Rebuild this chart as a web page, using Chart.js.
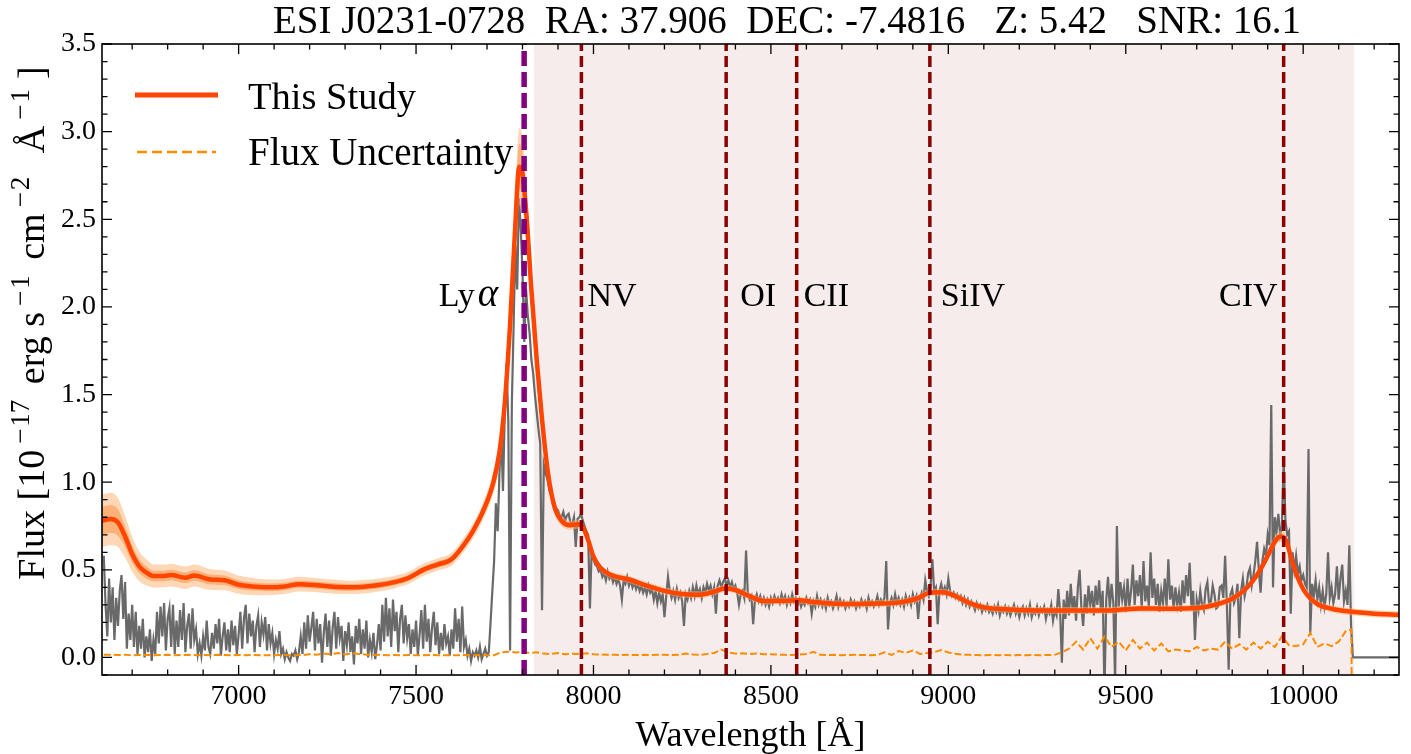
<!DOCTYPE html>
<html>
<head>
<meta charset="utf-8">
<title>ESI J0231-0728 spectrum</title>
<script src="https://cdn.jsdelivr.net/npm/chart.js@4.4.1/dist/chart.umd.min.js"></script>
<style>
  html, body { margin: 0; padding: 0; background: #fff; }
  canvas { display: block; }
</style>
</head>
<body>
<canvas id="spec" width="1411" height="754"></canvas>
<script>
// observed spectrum, 5 A sampling starting at 6620 A
var fluxStart = 6620, fluxStep = 5;
var fluxObs = [
  0.58, 0.30, 0.12, 0.45, 0.20, 0.40, 0.10, 0.34, 0.18, 0.38,
  0.47, 0.22, 0.43, 0.05, 0.25, 0.10, 0.30, 0.06, 0.26, 0.02,
  0.18, 0.05, 0.22, 0.00, 0.12, 0.03, 0.16, -0.02, 0.10, 0.02,
  0.26, 0.08, 0.29, 0.12, 0.31, 0.04, 0.22, 0.28, 0.06, 0.30,
  0.02, 0.21, 0.06, 0.27, 0.10, 0.31, 0.03, 0.18, 0.25, 0.05,
  0.28, 0.10, 0.16, 0.02, 0.08, 0.01, 0.12, 0.04, 0.21, 0.06,
  0.02, 0.14, 0.05, 0.19, 0.08, 0.22, 0.01, 0.12, 0.20, 0.04,
  0.16, 0.03, 0.21, 0.07, 0.18, 0.02, 0.13, 0.26, 0.05, 0.22,
  0.30, 0.08, 0.25, 0.12, 0.21, 0.03, 0.18, 0.24, 0.06, 0.20,
  0.13, 0.23, 0.04, 0.19, 0.08, 0.14, 0.02, 0.10, 0.05, 0.15,
  0.02, 0.05, -0.01, 0.03, 0.00, -0.02, 0.02, 0.01, 0.04, -0.01,
  0.03, 0.12, 0.02, 0.20, 0.05, 0.24, 0.09, 0.17, 0.26, 0.04,
  0.22, 0.08, 0.19, -0.03, 0.14, 0.25, 0.06, 0.21, 0.01, 0.17,
  0.26, 0.05, 0.23, 0.11, 0.18, -0.02, 0.15, 0.07, 0.20, 0.03,
  0.12, -0.04, 0.18, 0.08, 0.22, 0.02, 0.16, 0.05, 0.21, 0.00,
  0.10, 0.03, 0.14, -0.01, 0.07, 0.19, 0.04, 0.30, 0.09, 0.34,
  0.12, 0.28, 0.06, 0.33, 0.15, 0.26, 0.03, 0.22, 0.30, 0.08,
  0.24, 0.11, 0.19, 0.02, 0.16, 0.06, 0.21, 0.01, 0.13, 0.27,
  0.05, 0.30, 0.09, 0.22, 0.03, 0.17, 0.26, 0.07, 0.20, 0.02,
  0.14, 0.04, 0.19, 0.08, 0.12, 0.01, 0.16, 0.05, 0.28, 0.09,
  0.22, 0.03, 0.29, 0.06, 0.10, 0.01, 0.05, -0.02, 0.03, 0.01,
  0.04, 0.00, 0.06, -0.01, 0.02, 0.05, 0.01, 0.03, 0.20, 0.38,
  0.55, 0.88, 0.72, 1.05, 1.28, 0.95, 1.40, 1.68, 1.35, 0.04,
  1.45, 1.90, 2.35, 2.10, 2.62, 2.45, 2.20, 1.80, 2.10, 1.95,
  1.85, 1.70, 1.62, 1.50, 1.40, 1.30, 1.22, 0.27, 1.10, 1.05,
  1.02, 0.96, 0.93, 0.90, 0.88, 0.85, 0.84, 0.81, 0.80, 0.83,
  0.78, 0.81, 0.82, 0.77, 0.76, 0.80, 0.63, 0.79, 0.80, 0.82,
  0.78, 0.75, 0.72, 0.70, 0.28, 0.62, 0.56, 0.53, 0.52, 0.49,
  0.50, 0.46, 0.48, 0.44, 0.49, 0.45, 0.47, 0.43, 0.46, 0.42,
  0.45, 0.41, 0.33, 0.44, 0.42, 0.46, 0.41, 0.44, 0.40, 0.43,
  0.39, 0.42, 0.38, 0.41, 0.37, 0.40, 0.36, 0.41, 0.37, 0.39,
  0.33, 0.38, 0.31, 0.37, 0.32, 0.36, 0.23, 0.35, 0.46, 0.38,
  0.34, 0.38, 0.33, 0.39, 0.34, 0.37, 0.32, 0.18, 0.36, 0.33,
  0.38, 0.34, 0.40, 0.35, 0.41, 0.36, 0.39, 0.34, 0.40, 0.37,
  0.42, 0.38, 0.41, 0.36, 0.40, 0.25, 0.41, 0.44, 0.40, 0.43,
  0.45, 0.41, 0.44, 0.40, 0.43, 0.39, 0.41, 0.37, 0.30, 0.36,
  0.38, 0.34, 0.61, 0.36, 0.33, 0.35, 0.19, 0.33, 0.36, 0.32,
  0.35, 0.31, 0.34, 0.30, 0.33, 0.29, 0.34, 0.31, 0.35, 0.32,
  0.34, 0.31, 0.36, 0.32, 0.35, 0.30, 0.34, 0.31, 0.36, 0.32,
  0.34, 0.30, 0.33, 0.29, 0.32, 0.30, 0.34, 0.31, 0.33, 0.25,
  0.32, 0.29, 0.35, 0.30, 0.33, 0.29, 0.32, 0.28, 0.34, 0.30,
  0.32, 0.28, 0.31, 0.35, 0.29, 0.33, 0.30, 0.32, 0.28, 0.31,
  0.29, 0.33, 0.30, 0.32, 0.28, 0.31, 0.29, 0.33, 0.30, 0.32,
  0.28, 0.34, 0.30, 0.32, 0.29, 0.31, 0.35, 0.30, 0.33, 0.31,
  0.34, 0.55, 0.16, 0.31, 0.34, 0.30, 0.36, 0.31, 0.34, 0.30,
  0.33, 0.29, 0.35, 0.31, 0.34, 0.30, 0.36, 0.32, 0.35, 0.22,
  0.34, 0.37, 0.33, 0.44, 0.38, 0.35, 0.41, 0.56, 0.38, 0.40,
  0.19, 0.38, 0.42, 0.37, 0.40, 0.36, 0.45, 0.38, 0.35, 0.37,
  0.34, 0.36, 0.33, 0.35, 0.31, 0.34, 0.30, 0.33, 0.29, 0.32,
  0.30, 0.27, 0.31, 0.28, 0.30, 0.26, 0.29, 0.27, 0.30, 0.26,
  0.28, 0.25, 0.29, 0.26, 0.30, 0.24, 0.28, 0.26, 0.29, 0.25,
  0.28, 0.24, 0.27, 0.30, 0.25, 0.28, 0.23, 0.27, 0.29, 0.24,
  0.28, 0.25, 0.30, 0.23, 0.27, 0.25, 0.29, 0.24, 0.28, 0.26,
  0.29, 0.22, 0.27, 0.25, 0.30, 0.21, 0.27, 0.24, 0.39, 0.26,
  -0.03, 0.33, 0.22, 0.38, 0.24, 0.42, 0.27, 0.35, 0.21, 0.40,
  0.50, 0.28, 0.18, 0.36, 0.25, 0.41, 0.30, 0.38, 0.24, 0.41,
  0.30, 0.44, 0.26, 0.38, -0.20, 0.33, 0.46, 0.28, 0.42, 0.31,
  -0.15, 0.75, 0.29, 0.43, 0.33, 0.40, 0.26, 0.45, 0.29, 0.38,
  0.53, 0.30, 0.44, 0.35, 0.47, 0.28, 0.55, 0.32, 0.41, 0.29,
  0.60, 0.34, 0.45, 0.30, 0.42, 0.26, 0.38, 0.31, 0.45, 0.29,
  0.56, 0.33, 0.41, 0.27, 0.40, 0.30, 0.37, 0.26, 0.44, 0.31,
  0.47, 0.35, 0.54, 0.29, 0.38, 0.10, 0.33, 0.27, 0.38, 0.30,
  0.27, 0.39, 0.43, 0.30, 0.32, 0.41, 0.36, 0.28, 0.29, 0.40,
  0.41, 0.34, 0.58, 0.30, -0.07, 0.36, 0.39, 0.31, 0.34, 0.42,
  0.11, 0.38, 0.45, 0.35, 0.40, 0.48, 0.51, 0.41, 0.47, 0.55,
  0.66, 0.50, 0.37, 0.55, 0.62, 0.58, 0.70, 0.64, 1.44, 0.40,
  0.80, 0.72, 0.82, 0.70, 0.75, 1.13, 0.78, 0.70, 0.72, 0.25,
  0.60, 0.50, 0.58, 0.48, 0.52, 0.44, 0.47, 0.42, 0.40, 1.19,
  0.14, 0.42, 0.35, 0.44, 0.33, 0.40, 0.30, 0.38, 0.29, 0.36,
  0.60, 0.34, 0.40, 0.31, 0.36, 0.52, 0.33, 0.45, 0.53, 0.32,
  0.38, 0.30, 0.64, 0.18
];
// zero-filled tail past the end of the order
var fluxTailWave = [10140, 10270];
var fluxTailVal = [0.0, 0.0];

// 1-sigma flux error, 20 A sampling starting at 6620 A
var errStart = 6620, errStep = 20;
var fluxErr = [
  0.015, 0.016, 0.014, 0.015, 0.013, 0.014, 0.015, 0.013, 0.014, 0.015,
  0.013, 0.014, 0.015, 0.013, 0.014, 0.013, 0.015, 0.014, 0.013, 0.014,
  0.013, 0.014, 0.013, 0.012, 0.013, 0.014, 0.013, 0.012, 0.014, 0.018,
  0.016, 0.022, 0.018, 0.026, 0.017, 0.024, 0.020, 0.016, 0.014, 0.015,
  0.013, 0.014, 0.013, 0.014, 0.012, 0.013, 0.014, 0.013, 0.012, 0.013,
  0.013, 0.014, 0.012, 0.013, 0.012, 0.013, 0.030, 0.033, 0.029, 0.031,
  0.026, 0.030, 0.022, 0.020, 0.025, 0.019, 0.021, 0.020, 0.024, 0.018,
  0.017, 0.016, 0.015, 0.014, 0.015, 0.014, 0.015, 0.014, 0.016, 0.015,
  0.014, 0.015, 0.022, 0.017, 0.015, 0.020, 0.026, 0.045, 0.028, 0.022,
  0.024, 0.020, 0.023, 0.018, 0.019, 0.016, 0.015, 0.014, 0.016, 0.020,
  0.032, 0.015, 0.014, 0.015, 0.013, 0.014, 0.015, 0.014, 0.013, 0.014,
  0.030, 0.014, 0.037, 0.026, 0.040, 0.020, 0.025, 0.030, 0.042, 0.028,
  0.021, 0.016, 0.015, 0.014, 0.013, 0.014, 0.013, 0.014, 0.013, 0.014,
  0.013, 0.014, 0.013, 0.014, 0.015, 0.030, 0.050, 0.090, 0.045, 0.110,
  0.050, 0.120, 0.060, 0.090, 0.040, 0.100, 0.050, 0.085, 0.040, 0.080,
  0.035, 0.045, 0.040, 0.035, 0.060, 0.040, 0.050, 0.045, 0.090, 0.050,
  0.075, 0.045, 0.085, 0.050, 0.090, 0.060, 0.120, 0.070, 0.065, 0.075,
  0.140, 0.060, 0.080, 0.065, 0.090, 0.150
];
var errTailWave = [10136, 10138];
var errTailVal = [0.16, -1.0];

// model fit with its 1- and 2-sigma half widths
var modelWave = [
  6615, 6640, 6660, 6680, 6700, 6720, 6740, 6760, 6790, 6810,
  6850, 6875, 6920, 6960, 7000, 7050, 7090, 7130, 7170, 7230,
  7280, 7320, 7360, 7400, 7440, 7480, 7520, 7560, 7600, 7630,
  7660, 7690, 7718, 7735, 7750, 7765, 7778, 7791, 7800, 7812,
  7825, 7840, 7855, 7872, 7890, 7910, 7935, 7955, 7970, 7985,
  8000, 8020, 8050, 8100, 8150, 8200, 8250, 8300, 8340, 8372,
  8400, 8440, 8480, 8540, 8580, 8620, 8700, 8800, 8860, 8910,
  8950, 8985, 9020, 9060, 9100, 9150, 9200, 9300, 9400, 9470,
  9540, 9620, 9700, 9760, 9800, 9840, 9870, 9900, 9920, 9935,
  9950, 9970, 9990, 10010, 10040, 10080, 10130, 10200, 10270
];
var modelFlux = [
  0.78, 0.79, 0.77, 0.69, 0.59, 0.52, 0.485, 0.465, 0.465, 0.47,
  0.455, 0.468, 0.445, 0.44, 0.415, 0.403, 0.40, 0.405, 0.418, 0.41,
  0.402, 0.40, 0.405, 0.415, 0.43, 0.455, 0.50, 0.53, 0.56, 0.63,
  0.72, 0.84, 1.00, 1.17, 1.45, 1.90, 2.40, 2.80, 2.76, 2.50,
  2.10, 1.70, 1.36, 1.05, 0.86, 0.78, 0.755, 0.76, 0.745, 0.67,
  0.575, 0.51, 0.47, 0.445, 0.41, 0.38, 0.362, 0.358, 0.375, 0.395,
  0.385, 0.35, 0.322, 0.322, 0.327, 0.316, 0.305, 0.308, 0.313, 0.335,
  0.37, 0.372, 0.35, 0.31, 0.286, 0.276, 0.271, 0.268, 0.268, 0.27,
  0.28, 0.278, 0.282, 0.305, 0.335, 0.395, 0.47, 0.58, 0.66, 0.69,
  0.675, 0.54, 0.43, 0.36, 0.305, 0.278, 0.262, 0.25, 0.244
];
var bandInner = [
  0.08, 0.08, 0.075, 0.06, 0.05, 0.04, 0.035, 0.03, 0.03, 0.03,
  0.03, 0.03, 0.028, 0.027, 0.025, 0.023, 0.022, 0.021, 0.02, 0.02,
  0.02, 0.019, 0.019, 0.019, 0.018, 0.018, 0.018, 0.018, 0.019, 0.02,
  0.022, 0.026, 0.035, 0.045, 0.06, 0.08, 0.10, 0.13, 0.12, 0.10,
  0.08, 0.06, 0.045, 0.03, 0.02, 0.015, 0.013, 0.013, 0.013, 0.012,
  0.01, 0.01, 0.01, 0.01, 0.01, 0.01, 0.01, 0.01, 0.01, 0.01,
  0.01, 0.01, 0.01, 0.01, 0.01, 0.01, 0.01, 0.01, 0.01, 0.01,
  0.01, 0.01, 0.01, 0.01, 0.01, 0.01, 0.01, 0.01, 0.01, 0.01,
  0.01, 0.01, 0.01, 0.01, 0.01, 0.01, 0.01, 0.015, 0.015, 0.015,
  0.015, 0.015, 0.01, 0.01, 0.01, 0.01, 0.01, 0.01, 0.01
];
var bandOuter = [
  0.15, 0.15, 0.14, 0.12, 0.10, 0.085, 0.075, 0.066, 0.065, 0.065,
  0.064, 0.063, 0.06, 0.056, 0.052, 0.048, 0.045, 0.043, 0.042, 0.04,
  0.04, 0.038, 0.038, 0.037, 0.036, 0.035, 0.035, 0.035, 0.037, 0.04,
  0.044, 0.05, 0.065, 0.085, 0.11, 0.14, 0.18, 0.22, 0.21, 0.18,
  0.14, 0.11, 0.085, 0.06, 0.04, 0.03, 0.026, 0.026, 0.026, 0.024,
  0.02, 0.02, 0.02, 0.02, 0.02, 0.02, 0.02, 0.02, 0.02, 0.02,
  0.02, 0.02, 0.02, 0.02, 0.02, 0.02, 0.02, 0.02, 0.02, 0.02,
  0.02, 0.02, 0.02, 0.02, 0.02, 0.02, 0.02, 0.02, 0.02, 0.02,
  0.02, 0.02, 0.02, 0.02, 0.02, 0.02, 0.02, 0.03, 0.03, 0.03,
  0.03, 0.03, 0.02, 0.02, 0.02, 0.02, 0.02, 0.02, 0.02
];

// emission lines (rest frame, A) and redshift
var redshift = 5.42;
var lineNames = ['Ly\u03b1', 'NV', 'OI', 'CII', 'SiIV', 'CIV'];
var lineRest = [1215.67, 1240.81, 1304.35, 1335.30, 1393.76, 1549.06];
var fitWindowRest = [1220, 1580];

var xMajorTicks = [7000, 7500, 8000, 8500, 9000, 9500, 10000];
var yMajorTicks = [0, 0.5, 1.0, 1.5, 2.0, 2.5, 3.0, 3.5];

var titleText = 'ESI J0231-0728  RA: 37.906  DEC: -7.4816   Z: 5.42   SNR: 16.1';

var serif = "'Liberation Serif', 'Times New Roman', serif";

function onGrid(start, step, vals) {
  return vals.map(function (v, i) { return { x: start + i * step, y: v }; });
}
function paired(xs, ys) {
  return xs.map(function (v, i) { return { x: v, y: ys[i] }; });
}
function offsetModel(halfWidth, sign) {
  return modelWave.map(function (w, i) { return { x: w, y: modelFlux[i] + sign * halfWidth[i] }; });
}

// label placement next to each line marker
var labelPlace = {
  'Ly\u03b1': { side: 'left', gap: 26 },
  'NV': { side: 'right', gap: 6 },
  'OI': { side: 'right', gap: 14 },
  'CII': { side: 'right', gap: 7 },
  'SiIV': { side: 'right', gap: 11 },
  'CIV': { side: 'left', gap: 6 }
};

var decor = {
  id: 'decor',
  beforeDatasetsDraw: function (chart) {
    var ctx = chart.ctx, a = chart.chartArea, x = chart.scales.x;
    var x0 = x.getPixelForValue(fitWindowRest[0] * (1 + redshift));
    var x1 = x.getPixelForValue(fitWindowRest[1] * (1 + redshift));
    ctx.save();
    ctx.fillStyle = 'rgb(246, 236, 236)';
    ctx.fillRect(x0, a.top, x1 - x0, a.bottom - a.top);
    ctx.restore();
  },
  afterDatasetsDraw: function (chart) {
    var ctx = chart.ctx, a = chart.chartArea, x = chart.scales.x, y = chart.scales.y;
    ctx.save();
    ctx.beginPath();
    ctx.rect(a.left, a.top, a.right - a.left, a.bottom - a.top);
    ctx.clip();

    // line markers
    lineNames.forEach(function (name, i) {
      var px = x.getPixelForValue(lineRest[i] * (1 + redshift));
      var lya = i === 0;
      ctx.beginPath();
      ctx.setLineDash(lya ? [15, 6] : [11, 5]);
      ctx.lineWidth = lya ? 5.5 : 3.5;
      ctx.strokeStyle = lya ? '#800080' : '#8b0000';
      ctx.moveTo(px, a.bottom);
      ctx.lineTo(px, a.top);
      ctx.stroke();
    });
    ctx.setLineDash([]);

    // line names
    ctx.fillStyle = '#000';
    ctx.textBaseline = 'alphabetic';
    ctx.textAlign = 'left';
    var labelY = 306;
    lineNames.forEach(function (name, i) {
      var px = x.getPixelForValue(lineRest[i] * (1 + redshift));
      var place = labelPlace[name];
      if (i === 0) {
        // "Ly" upright, alpha italic as in math mode
        ctx.font = '34px ' + serif;
        var wLy = ctx.measureText('Ly').width;
        ctx.font = 'italic 39px ' + serif;
        var wA = ctx.measureText('\u03b1').width;
        var sx = px - place.gap - wLy - 3 - wA;
        ctx.font = '34px ' + serif;
        ctx.fillText('Ly', sx, labelY);
        ctx.font = 'italic 39px ' + serif;
        ctx.fillText('\u03b1', sx + wLy + 3, labelY);
      } else {
        ctx.font = '34px ' + serif;
        var w = ctx.measureText(name).width;
        var tx = place.side === 'right' ? px + place.gap : px - place.gap - w;
        ctx.fillText(name, tx, labelY);
      }
    });
    ctx.restore();

    // inward ticks on all four sides
    ctx.save();
    ctx.strokeStyle = '#000';
    ctx.lineWidth = 1.3;
    ctx.beginPath();
    for (var v = 6700; v <= 10200; v += 100) {
      var px = x.getPixelForValue(v);
      var len = xMajorTicks.indexOf(v) >= 0 ? 10 : 5.5;
      ctx.moveTo(px, a.bottom); ctx.lineTo(px, a.bottom - len);
      ctx.moveTo(px, a.top); ctx.lineTo(px, a.top + len);
    }
    for (var k = -1; k <= 35; k++) {
      var py = y.getPixelForValue(k / 10);
      var ylen = k % 5 === 0 ? 10 : 5.5;
      ctx.moveTo(a.left, py); ctx.lineTo(a.left + ylen, py);
      ctx.moveTo(a.right, py); ctx.lineTo(a.right - ylen, py);
    }
    ctx.stroke();
    ctx.lineWidth = 1.6;
    ctx.strokeRect(a.left, a.top, a.right - a.left, a.bottom - a.top);
    ctx.restore();
  },
  afterDraw: function (chart) {
    var ctx = chart.ctx, a = chart.chartArea;
    ctx.save();
    ctx.fillStyle = '#000';
    ctx.textBaseline = 'alphabetic';

    // title
    ctx.font = '39px ' + serif;
    ctx.textAlign = 'center';
    ctx.fillText(titleText, 787, 33);

    // x axis title
    ctx.font = '36px ' + serif;
    ctx.fillText('Wavelength [\u00c5]', (a.left + a.right) / 2, 746);

    // y axis title: [text, superscript?, extra space before]
    var parts = [['Flux [10', 0, 0], ['\u2212', 1, 6], ['17', 1, 2], [' erg s', 0, 6],
                 ['\u2212', 1, 6], ['1', 1, 2], [' cm', 0, 6], ['\u2212', 1, 6], ['2', 1, 2],
                 [' \u00c5', 0, 14], ['\u2212', 1, 6], ['1', 1, 2], [']', 0, 10]];
    var big = '38px ' + serif, small = '27px ' + serif;
    ctx.save();
    ctx.translate(44, 323);
    ctx.rotate(-Math.PI / 2);
    ctx.textAlign = 'left';
    var total = 0;
    parts.forEach(function (p) { ctx.font = p[1] ? small : big; total += p[2] + ctx.measureText(p[0]).width; });
    var cx = -total / 2;
    parts.forEach(function (p) {
      ctx.font = p[1] ? small : big;
      cx += p[2];
      ctx.fillText(p[0], cx, p[1] ? -15 : 0);
      cx += ctx.measureText(p[0]).width;
    });
    ctx.restore();

    // legend
    ctx.textAlign = 'left';
    ctx.beginPath();
    ctx.strokeStyle = '#ff4500';
    ctx.lineWidth = 5;
    ctx.moveTo(135, 95); ctx.lineTo(218, 95);
    ctx.stroke();
    ctx.font = '38.5px ' + serif;
    ctx.fillText('This Study', 248, 109);
    ctx.beginPath();
    ctx.strokeStyle = '#ff8c00';
    ctx.lineWidth = 2.5;
    ctx.setLineDash([10, 5]);
    ctx.moveTo(137, 152); ctx.lineTo(216, 152);
    ctx.stroke();
    ctx.setLineDash([]);
    ctx.font = '39px ' + serif;
    ctx.fillText('Flux Uncertainty', 248, 165);
    ctx.restore();
  }
};

var chart = new Chart(document.getElementById('spec').getContext('2d'), {
  type: 'line',
  data: {
    datasets: [
      {
        label: 'Flux Uncertainty',
        data: onGrid(errStart, errStep, fluxErr).concat(paired(errTailWave, errTailVal)),
        borderColor: '#ff8c00',
        borderWidth: 2,
        borderDash: [7, 3],
        pointRadius: 0,
        fill: false
      },
      {
        label: 'This Study',
        data: paired(modelWave, modelFlux),
        borderColor: '#ff4500',
        borderWidth: 4.5,
        pointRadius: 0,
        cubicInterpolationMode: 'monotone',
        fill: false
      },
      {
        label: '1 sigma upper',
        data: offsetModel(bandInner, 1),
        borderColor: 'transparent',
        borderWidth: 0,
        pointRadius: 0,
        cubicInterpolationMode: 'monotone',
        backgroundColor: 'rgba(250, 140, 60, 0.5)',
        fill: '+1'
      },
      {
        label: '1 sigma lower',
        data: offsetModel(bandInner, -1),
        borderColor: 'transparent',
        borderWidth: 0,
        pointRadius: 0,
        cubicInterpolationMode: 'monotone',
        fill: false
      },
      {
        label: '2 sigma upper',
        data: offsetModel(bandOuter, 1),
        borderColor: 'transparent',
        borderWidth: 0,
        pointRadius: 0,
        cubicInterpolationMode: 'monotone',
        backgroundColor: 'rgba(253, 175, 110, 0.5)',
        fill: '+1'
      },
      {
        label: '2 sigma lower',
        data: offsetModel(bandOuter, -1),
        borderColor: 'transparent',
        borderWidth: 0,
        pointRadius: 0,
        cubicInterpolationMode: 'monotone',
        fill: false
      },
      {
        label: 'Observed',
        data: onGrid(fluxStart, fluxStep, fluxObs).concat(paired(fluxTailWave, fluxTailVal)),
        borderColor: '#696969',
        borderWidth: 2.2,
        pointRadius: 0,
        tension: 0,
        fill: false
      }
    ]
  },
  options: {
    responsive: false,
    animation: false,
    devicePixelRatio: 1,
    layout: { padding: { top: 44, right: 12, left: 0, bottom: 0 } },
    plugins: {
      legend: { display: false },
      tooltip: { enabled: false },
      title: { display: false }
    },
    scales: {
      x: {
        type: 'linear',
        min: 6615,
        max: 10270,
        grid: { display: false, drawTicks: false },
        border: { display: false },
        afterBuildTicks: function (s) { s.ticks = xMajorTicks.map(function (v) { return { value: v }; }); },
        afterFit: function (s) { s.height = 79; },
        ticks: {
          color: '#000',
          font: { family: serif, size: 28 },
          padding: 5,
          maxRotation: 0,
          autoSkip: false,
          callback: function (v) { return String(v); }
        }
      },
      y: {
        type: 'linear',
        min: -0.1,
        max: 3.5,
        grid: { display: false, drawTicks: false },
        border: { display: false },
        afterBuildTicks: function (s) { s.ticks = yMajorTicks.map(function (v) { return { value: v }; }); },
        afterFit: function (s) { s.width = 102; },
        ticks: {
          color: '#000',
          font: { family: serif, size: 28 },
          padding: 6,
          autoSkip: false,
          callback: function (v) { return v.toFixed(1); }
        }
      }
    }
  },
  plugins: [decor]
});
</script>
</body>
</html>
